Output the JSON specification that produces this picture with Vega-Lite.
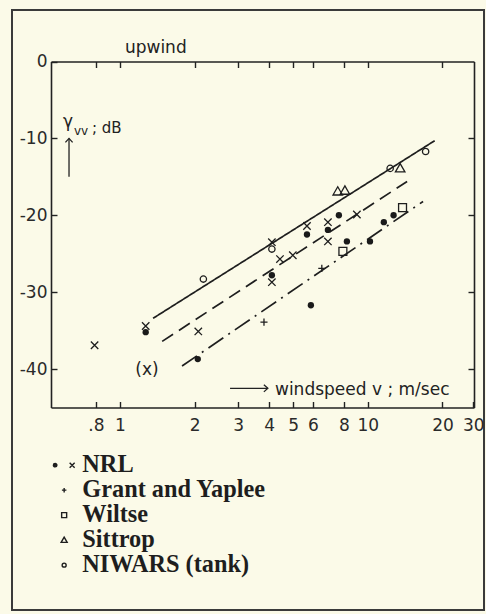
{
  "$schema": "https://vega.github.io/schema/vega-lite/v6.json",
  "width": 472,
  "height": 600,
  "autosize": {"type": "none"},
  "padding": {"left": 12, "top": 10, "right": 2, "bottom": 4},
  "background": "#fbfae8",
  "config": {
    "view": {"stroke": "#3a3a3a", "strokeWidth": 2},
    "font": "DejaVu Sans",
    "axis": {
      "domainColor": "#222222", "domainWidth": 1.6,
      "tickColor": "#222222", "tickWidth": 1.4,
      "labelColor": "#2a2a2a", "labelFont": "DejaVu Sans", "labelFontSize": 17,
      "grid": false, "title": null
    }
  },
  "datasets": {
    "lines": [
      {"style": "solid", "v": 1.36, "g": -33.4},
      {"style": "solid", "v": 18.6, "g": -10.3},
      {"style": "dashed", "v": 1.48, "g": -36.4},
      {"style": "dashed", "v": 14.4, "g": -15.6},
      {"style": "dashdot", "v": 1.78, "g": -39.6},
      {"style": "dashdot", "v": 16.7, "g": -18.2}
    ],
    "nrl_dots": [
      {"v": 1.27, "g": -35.2},
      {"v": 2.06, "g": -38.7},
      {"v": 4.10, "g": -27.8},
      {"v": 5.89, "g": -31.7},
      {"v": 5.68, "g": -22.5},
      {"v": 6.90, "g": -21.9},
      {"v": 7.64, "g": -20.0},
      {"v": 8.23, "g": -23.4},
      {"v": 10.2, "g": -23.4},
      {"v": 11.6, "g": -20.9},
      {"v": 12.7, "g": -20.0}
    ],
    "nrl_crosses": [
      {"v": 0.79, "g": -36.9},
      {"v": 1.27, "g": -34.4},
      {"v": 2.07, "g": -35.1},
      {"v": 4.10, "g": -23.5},
      {"v": 4.42, "g": -25.7},
      {"v": 4.98, "g": -25.2},
      {"v": 4.10, "g": -28.7},
      {"v": 5.68, "g": -21.4},
      {"v": 6.90, "g": -20.9},
      {"v": 6.90, "g": -23.4},
      {"v": 9.03, "g": -19.9}
    ],
    "others": [
      {"series": "Grant and Yaplee", "v": 3.81, "g": -33.9},
      {"series": "Grant and Yaplee", "v": 6.52, "g": -26.9},
      {"series": "Wiltse", "v": 7.93, "g": -24.7},
      {"series": "Wiltse", "v": 13.8, "g": -19.0},
      {"series": "Sittrop", "v": 7.56, "g": -16.9},
      {"series": "Sittrop", "v": 8.08, "g": -16.8},
      {"series": "Sittrop", "v": 13.5, "g": -13.9},
      {"series": "NIWARS (tank)", "v": 2.17, "g": -28.3},
      {"series": "NIWARS (tank)", "v": 4.10, "g": -24.4},
      {"series": "NIWARS (tank)", "v": 12.3, "g": -13.9},
      {"series": "NIWARS (tank)", "v": 17.1, "g": -11.7}
    ],
    "bracketed": [
      {"v": 1.285, "g": -40.1, "label": "(x)"}
    ]
  },
  "layer": [
    {
      "data": {"name": "lines"},
      "mark": {"type": "line", "color": "#1e1e1e", "strokeWidth": 1.7},
      "encoding": {
        "x": {
          "field": "v", "type": "quantitative",
          "scale": {"type": "log", "domain": [0.527, 26.8], "range": [39, 462], "nice": false},
          "axis": {
            "orient": "bottom", "offset": -202.5,
            "values": [0.8, 1, 2, 3, 4, 5, 6, 8, 10, 20, 26.6],
            "format": "~g",
            "labelExpr": "datum.value > 25 ? '30' : (datum.value < 0.9 ? '.8' : datum.label)",
            "tickSize": -6, "labelPadding": 16, "labelFlush": false, "labelOverlap": false
          }
        },
        "y": {
          "field": "g", "type": "quantitative",
          "scale": {"domain": [-45, 0], "range": [397.5, 51.5], "nice": false, "zero": false},
          "axis": {
            "orient": "left", "offset": -39,
            "values": [0, -10, -20, -30, -40],
            "labelExpr": "datum.value == 0 ? '0' : '-' + (-datum.value)",
            "tickSize": -6, "labelPadding": 10, "labelFlush": false, "labelOverlap": false
          }
        },
        "detail": {"field": "style"},
        "strokeDash": {
          "field": "style", "type": "nominal",
          "scale": {"domain": ["solid", "dashed", "dashdot"], "range": [[1, 0], [13, 7], [18, 6, 2, 6]]},
          "legend": null
        }
      }
    },
    {
      "data": {"name": "others"},
      "mark": {"type": "point", "filled": false, "color": "#1e1e1e", "strokeWidth": 1.3, "size": 250, "opacity": 1},
      "encoding": {
        "x": {
          "field": "v", "type": "quantitative",
          "axis": {
            "orient": "top", "offset": -51.5,
            "values": [0.8, 1, 2, 3, 4, 5, 6, 8, 10, 20],
            "labels": false, "tickSize": -6
          }
        },
        "y": {
          "field": "g", "type": "quantitative",
          "axis": {
            "orient": "right", "offset": -10,
            "values": [-10, -20, -30, -40],
            "labels": false, "tickSize": -6
          }
        },
        "shape": {
          "field": "series", "type": "nominal",
          "scale": {
            "domain": ["NRL", "Grant and Yaplee", "Wiltse", "Sittrop", "NIWARS (tank)"],
            "range": [
              "M-2.15,0A0.35,0.35,0,1,0,-1.45,0A0.35,0.35,0,1,0,-2.15,0ZM-1.95,0A0.15,0.15,0,1,0,-1.65,0A0.15,0.15,0,1,0,-1.95,0ZM1.1,-0.5L2.1,0.5M1.1,0.5L2.1,-0.5",
              "M-0.45,0L0.45,0M0,-0.45L0,0.45",
              "M-0.5,-0.5L0.5,-0.5L0.5,0.5L-0.5,0.5Z",
              "M0,-0.6L0.6,0.45L-0.6,0.45Z",
              "M-0.4,0A0.4,0.4,0,1,0,0.4,0A0.4,0.4,0,1,0,-0.4,0Z"
            ]
          },
          "legend": {
            "orient": "none", "legendX": 40, "legendY": 443, "title": null,
            "labelFont": "Liberation Serif", "labelFontWeight": "bold", "labelFontSize": 24.3,
            "labelColor": "#1e1e1e", "labelLimit": 400, "symbolSize": 100, "symbolStrokeWidth": 1.4,
            "symbolStrokeColor": "#1e1e1e", "labelOffset": 6, "rowPadding": 0, "padding": 0
          }
        }
      }
    },
    {
      "data": {"name": "nrl_dots"},
      "mark": {"type": "point", "shape": "circle", "filled": true, "color": "#1a1a1a", "size": 40, "opacity": 1},
      "encoding": {
        "x": {"field": "v", "type": "quantitative", "axis": null},
        "y": {"field": "g", "type": "quantitative", "axis": null}
      }
    },
    {
      "data": {"name": "nrl_crosses"},
      "mark": {"type": "point", "shape": "M-1,-1L1,1M-1,1L1,-1", "filled": false, "stroke": "#1e1e1e", "strokeWidth": 1.3, "size": 55, "opacity": 1},
      "encoding": {
        "x": {"field": "v", "type": "quantitative", "axis": null},
        "y": {"field": "g", "type": "quantitative", "axis": null}
      }
    },
    {
      "data": {"name": "bracketed"},
      "mark": {"type": "text", "font": "DejaVu Sans", "fontSize": 17, "color": "#222222", "baseline": "middle"},
      "encoding": {
        "x": {"field": "v", "type": "quantitative", "axis": null},
        "y": {"field": "g", "type": "quantitative", "axis": null},
        "text": {"field": "label"}
      }
    },
    {
      "data": {"values": [{}]},
      "mark": {"type": "text", "text": "upwind", "font": "DejaVu Sans", "fontSize": 17, "color": "#222222", "align": "left", "baseline": "alphabetic"},
      "encoding": {
        "x": {"datum": 1.047, "type": "quantitative", "axis": null},
        "y": {"datum": 1.1, "type": "quantitative", "axis": null}
      }
    },
    {
      "data": {"values": [{}]},
      "mark": {"type": "text", "text": "γ", "font": "DejaVu Sans", "fontSize": 17, "color": "#222222", "align": "left", "baseline": "alphabetic"},
      "encoding": {
        "x": {"datum": 0.589, "type": "quantitative", "axis": null},
        "y": {"datum": -8.5, "type": "quantitative", "axis": null}
      }
    },
    {
      "data": {"values": [{}]},
      "mark": {"type": "text", "text": "vv", "font": "DejaVu Sans", "fontSize": 12, "color": "#222222", "align": "left", "baseline": "alphabetic"},
      "encoding": {
        "x": {"datum": 0.652, "type": "quantitative", "axis": null},
        "y": {"datum": -9.56, "type": "quantitative", "axis": null}
      }
    },
    {
      "data": {"values": [{}]},
      "mark": {"type": "text", "text": "; dB", "font": "DejaVu Sans", "fontSize": 15, "color": "#222222", "align": "left", "baseline": "alphabetic"},
      "encoding": {
        "x": {"datum": 0.771, "type": "quantitative", "axis": null},
        "y": {"datum": -9.3, "type": "quantitative", "axis": null}
      }
    },
    {
      "data": {"values": [{}]},
      "mark": {"type": "rule", "color": "#222222", "strokeWidth": 1.3},
      "encoding": {
        "x": {"datum": 0.623, "type": "quantitative", "axis": null},
        "y": {"datum": -15.0, "type": "quantitative", "axis": null},
        "y2": {"datum": -10.0}
      }
    },
    {
      "data": {"values": [{}]},
      "mark": {"type": "point", "shape": "M-0.9,1L0,0L0.9,1", "filled": false, "stroke": "#222222", "strokeWidth": 1.3, "size": 64, "opacity": 1},
      "encoding": {
        "x": {"datum": 0.623, "type": "quantitative", "axis": null},
        "y": {"datum": -10.0, "type": "quantitative", "axis": null}
      }
    },
    {
      "data": {"values": [{}]},
      "mark": {"type": "rule", "color": "#222222", "strokeWidth": 1.3},
      "encoding": {
        "x": {"datum": 2.78, "type": "quantitative", "axis": null},
        "x2": {"datum": 3.95},
        "y": {"datum": -42.5, "type": "quantitative", "axis": null}
      }
    },
    {
      "data": {"values": [{}]},
      "mark": {"type": "point", "shape": "M-1,-0.9L0,0L-1,0.9", "filled": false, "stroke": "#222222", "strokeWidth": 1.3, "size": 64, "opacity": 1},
      "encoding": {
        "x": {"datum": 3.95, "type": "quantitative", "axis": null},
        "y": {"datum": -42.5, "type": "quantitative", "axis": null}
      }
    },
    {
      "data": {"values": [{}]},
      "mark": {"type": "text", "text": "windspeed v ; m/sec", "font": "DejaVu Sans", "fontSize": 17, "color": "#222222", "align": "left", "baseline": "alphabetic"},
      "encoding": {
        "x": {"datum": 4.22, "type": "quantitative", "axis": null},
        "y": {"datum": -43.4, "type": "quantitative", "axis": null}
      }
    }
  ],
  "resolve": {"axis": {"x": "independent", "y": "independent"}}
}
